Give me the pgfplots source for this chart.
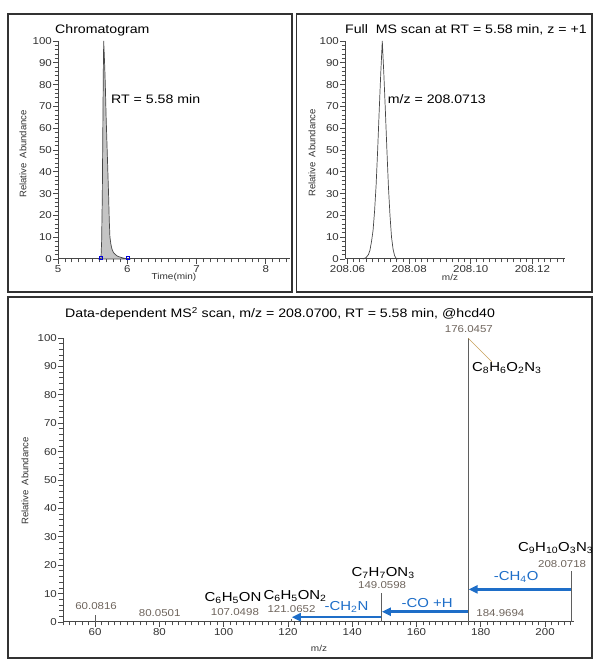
\documentclass[border=0pt]{standalone}
\usepackage{fontspec}
\setmainfont{Liberation Sans}[FakeStretch=1.15]
\newfontfamily\rotfont{Liberation Sans}
\usepackage{pgfplots}
\pgfplotsset{compat=1.18}
\usetikzlibrary{arrows.meta}
\definecolor{tickgray}{RGB}{50,50,50}
\definecolor{axgray}{RGB}{70,70,70}
\definecolor{framecol}{RGB}{50,50,50}
\definecolor{fillgray}{RGB}{196,196,196}
\definecolor{curvegray}{RGB}{70,70,70}
\definecolor{stickgray}{RGB}{95,95,95}
\definecolor{pklbl}{RGB}{110,100,92}
\definecolor{arrblue}{RGB}{30,110,200}
\definecolor{leader}{RGB}{200,160,90}
\newcommand\ft[1]{\fontsize{#1}{#1}\selectfont}
\newcommand\sub[1]{\textsubscript{#1}}
\pgfplotsset{msaxis/.style={
  scale only axis, anchor=south west, clip=false,
  axis lines=left, axis line style={-, draw=axgray, line width=1pt},
  tick align=outside, major tick length=5pt,
  major tick style={draw=axgray, line width=0.9pt},
  tick label style={font=\ft{10}, text=tickgray, inner sep=1pt},
  /pgf/number format/assume math mode=true,
  ymin=0, ymax=100, ytick={0,10,...,100},
  extra y ticks={0,2,...,100}, extra y tick labels={},
  extra x tick labels={},
  extra tick style={major tick length=3.5pt, major tick style={draw=black!70, line width=0.8pt}},
}}
\begin{document}
\begin{tikzpicture}
\path[use as bounding box] (0pt,0pt) rectangle (600pt,659pt);
\draw[framecol, line width=1.3pt] (8pt,367pt) rectangle (292pt,645pt);
\draw[framecol, line width=1.3pt] (296.5pt,367pt) rectangle (592pt,645pt);
\draw[framecol, line width=1.3pt] (8pt,1pt) rectangle (592pt,362pt);

% ---------- Chromatogram ----------
\begin{axis}[msaxis, at={(58pt,400pt)}, width=232pt, height=218pt,
  xmin=5, xmax=8.35, xtick={5,6,7,8}, extra x ticks={5,5.1,...,8.35}]
\addplot[fill=fillgray, draw=curvegray, line width=0.7pt] coordinates {
(5.60,0)(5.62,0.3)(5.63,8)(5.64,30)(5.645,50)(5.65,70)(5.655,88)(5.66,100)
(5.665,96)(5.675,88)(5.683,80)(5.695,65)(5.71,50)(5.72,40)(5.73,30)(5.74,18)
(5.75,10)(5.765,6.5)(5.78,4.5)(5.80,3)(5.83,2)(5.86,1.3)(5.90,0.8)(5.95,0.4)
(6.00,0.1)(6.05,0)} \closedcycle;
\addplot[only marks, mark=square, mark size=1.5pt,
  mark options={draw=blue!85!black, line width=0.5pt}] coordinates {(5.62,0.7)(6.00,0.7)};
\end{axis}
\node[anchor=base west, font=\ft{12.3}, inner sep=0pt] at (55pt,625.5pt) {Chromatogram};
\node[anchor=base west, font=\ft{12.3}, inner sep=0pt] at (111pt,555.7pt) {RT = 5.58 min};
\node[rotate=90, font=\rotfont\ft{9.5}, text=tickgray] at (23pt,505pt) {Relative\ \ Abundance};
\node[font=\ft{8.7}, text=tickgray] at (174pt,382pt) {Time(min)};

% ---------- Full MS ----------
\begin{axis}[msaxis, at={(345pt,400pt)}, width=220pt, height=218pt,
  xmin=208.0592, xmax=208.1306, xtick={208.06,208.08,208.10,208.12},
  extra x ticks={208.060,208.062,...,208.130},
  xticklabel style={/pgf/number format/.cd, fixed, fixed zerofill, precision=2}]
\addplot[draw=curvegray, line width=0.7pt] coordinates {
(208.0650,0)(208.0660,0.6)(208.0668,2)(208.0673,4)(208.0678,8)(208.0683,13)
(208.0688,22)(208.0693,34)(208.0698,50)(208.0703,68)(208.0708,85)(208.0713,100)
(208.0718,85)(208.0723,68)(208.0728,50)(208.0733,33)(208.0738,20)(208.0743,10)
(208.0748,4.5)(208.0753,1.5)(208.0758,0.3)(208.0765,0)};
\end{axis}
\node[anchor=base west, font=\ft{12.3}, inner sep=0pt] at (345pt,625pt) {Full\ \ MS scan at RT = 5.58 min,\ z = +1};
\node[anchor=base west, font=\ft{12.3}, inner sep=0pt] at (387.7pt,555.7pt) {m/z = 208.0713};
\node[rotate=90, font=\rotfont\ft{9.5}, text=tickgray] at (312pt,506pt) {Relative\ \ Abundance};
\node[font=\ft{8.7}, text=tickgray] at (450pt,382pt) {m/z};

% ---------- MS2 ----------
\begin{axis}[msaxis, at={(63pt,37pt)}, width=511pt, height=284pt,
  xmin=50, xmax=209, xtick={60,80,...,200}, extra x ticks={50,52,...,208}]
\addplot[ycomb, draw=stickgray, line width=0.9pt] coordinates {
(60.0816,2.5)(80.0501,0.5)(107.0498,0.5)(121.0652,1)(149.0598,10.3)
(176.0457,100)(184.9694,0.5)(208.0718,18)};
\addplot[draw=leader, line width=0.5pt] coordinates {(176.05,100)(183.5,91.5)};
\addplot[draw=arrblue, line width=2.6pt, -{Triangle[length=9pt,width=8pt]}] coordinates {(208.0,11.5)(176.2,11.5)};
\addplot[draw=arrblue, line width=2.6pt, -{Triangle[length=9pt,width=8pt]}] coordinates {(175.9,3.6)(149.2,3.6)};
\addplot[draw=arrblue, line width=2.6pt, -{Triangle[length=9pt,width=8pt]}] coordinates {(148.9,1.7)(121.2,1.7)};
\node[font=\ft{10}, text=pklbl] at (axis cs:176.3,103.2) {176.0457};
\node[font=\ft{13}] at (axis cs:188.1,89.4) {C\sub{8}H\sub{6}O\sub{2}N\sub{3}};
\node[font=\ft{13}] at (axis cs:203.3,26.1) {C\sub{9}H\sub{10}O\sub{3}N\sub{3}};
\node[font=\ft{10}, text=pklbl] at (axis cs:205.3,20.4) {208.0718};
\node[font=\ft{13}] at (axis cs:149.6,17.3) {C\sub{7}H\sub{7}ON\sub{3}};
\node[font=\ft{10}, text=pklbl] at (axis cs:149.3,13) {149.0598};
\node[font=\ft{13}] at (axis cs:122.2,9.2) {C\sub{6}H\sub{5}ON\sub{2}};
\node[font=\ft{10}, text=pklbl] at (axis cs:121.1,4.6) {121.0652};
\node[font=\ft{13}] at (axis cs:102.9,8.5) {C\sub{6}H\sub{5}ON};
\node[font=\ft{10}, text=pklbl] at (axis cs:103.5,3.5) {107.0498};
\node[font=\ft{10}, text=pklbl] at (axis cs:60.3,5.6) {60.0816};
\node[font=\ft{10}, text=pklbl] at (axis cs:80.1,3.2) {80.0501};
\node[font=\ft{10}, text=pklbl] at (axis cs:186.1,3.2) {184.9694};
\node[font=\ft{13}, text=arrblue] at (axis cs:191,15.8) {-CH\sub{4}O};
\node[font=\ft{13}, text=arrblue] at (axis cs:163.3,6.7) {-CO +H};
\node[font=\ft{13}, text=arrblue] at (axis cs:138.2,5.3) {-CH\sub{2}N};
\end{axis}
\node[anchor=base west, font=\ft{12.3}, inner sep=0pt] at (65pt,341pt) {Data-dependent MS\textsuperscript{2} scan, m/z = 208.0700, RT = 5.58 min, @hcd40};
\node[rotate=90, font=\rotfont\ft{9.5}, text=tickgray] at (25pt,178pt) {Relative\ \ Abundance};
\node[font=\ft{8.7}, text=tickgray] at (319pt,11pt) {m/z};
\end{tikzpicture}
\end{document}
